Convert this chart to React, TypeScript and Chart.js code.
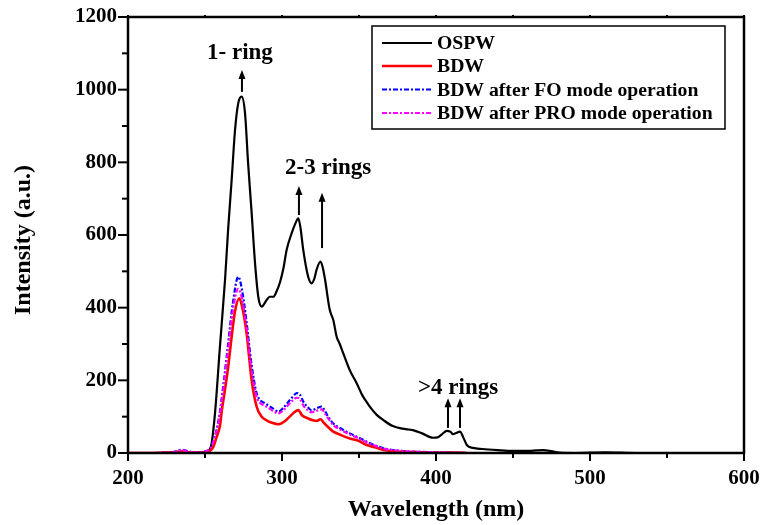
import React, { useEffect, useRef } from "react";
import { Chart, registerables } from "chart.js";

Chart.register(...registerables);

// ---- data ----
const ospwWavelength = [200,210,220,228,232,235,238,242,246,250,252,254,256.5,259.7,263,265,267.3,269.5,271.6,273.8,276,278,280.3,282.5,284.6,286.8,290,292,294.4,296.5,298.7,301,303,306.3,308.5,310.6,312,313.8,317,319.3,321,322.5,325,326.5,328,331,333.3,335.5,337.5,339.8,344,348.5,352,355,358,361.5,366,372,378,385,391,398,401,404,407,409.5,411,413,415.6,417.5,420,424,430,440,450,460,465,469.6,475,480,490,510,530,600];
const ospwIntensity = [0,0,0,1,3,4,3,1,1,3,6,20,110,293,476,614,751,889,963,981,935,797,660,522,430,403,421,430,430,445,470,510,559,605,630,646,620,559,485,467,480,505,527,510,476,394,366,320,300,274,228,192,160,140,122,105,90,74,67,63,54,42,43,52,61,58,52,55,59,45,22,14,11,8,6,6,7,8,5,1,0,2,0,0];

const bdwWavelength = [200,215,225,230,235,240,245,250,253,255.4,257.6,259.7,261,263,265,267.3,269.5,272.3,274.5,277,280.3,283.5,286.8,290,293,298,302,305,308,310.6,313,317,320,322.5,325,327,329,333.3,338,344,350,355,361,366,372,380,390,400,410,420];
const bdwIntensity = [0,0,1,2,4,2,1,2,5,17,45,75,120,175,235,320,390,426,395,330,200,128,100,90,84,79,88,100,112,118,104,95,90,88,93,84,75,59,50,40,33,22,15,8,5,3,2,1,1,0];

const afterWavelength = [200,215,225,230,234.8,238,242,246,250,253,256,259,262,265,268,271.6,274,277,280,283.5,286,289,294,297.6,301,304,307,309.5,311.7,314,317,319,321,323,325.8,328,330,333.3,338,344,350,355,361,366,372,380,390,400,410,420];
const foIntensity = [0,0,1,3,9,6,2,2,5,10,40,95,190,300,410,485,450,360,250,165,145,137,123,114,125,140,155,165,160,140,125,118,120,124,128,115,100,81,68,54,42,31,20,13,8,5,3,2,1,0];
const proIntensity = [0,0,1,3,8,5,2,2,5,10,38,90,180,285,390,452,425,345,235,155,137,130,116,109,118,132,145,152,148,130,117,112,114,117,120,108,95,77,64,51,40,29,19,12,8,5,3,2,1,0];

const seriesLabels = ["OSPW", "BDW", "BDW after FO mode operation", "BDW after PRO mode operation"];
const seriesColors = ["#000000", "#ff0000", "#0000ff", "#ff00ff"];

const xTicks = [200, 300, 400, 500, 600];
const yTicks = [0, 200, 400, 600, 800, 1000, 1200];

// annotations in data units
const annotationTexts = [
  { text: "1- ring", x: 272.7, y: 1101 },
  { text: "2-3 rings", x: 330, y: 784 },
  { text: ">4 rings", x: 414.3, y: 179 },
];
const annotationArrows = [
  { x: 274, from: 994, to: 1054 },
  { x: 311, from: 655, to: 735 },
  { x: 326, from: 564, to: 716 },
  { x: 407.8, from: 69, to: 151 },
  { x: 415.6, from: 69, to: 151 },
];

const FONT = '"Liberation Serif", "Times New Roman", serif';
const DASH_DOT = [5, 2, 2, 2];

function zip(xs: number[], ys: number[]) {
  return xs.map((x, i) => ({ x, y: ys[i] }));
}

const decorPlugin = {
  id: "decor",
  afterDraw(chart: any) {
    const ctx = chart.ctx as CanvasRenderingContext2D;
    const { left, right, top, bottom } = chart.chartArea;
    const xs = chart.scales.x;
    const ys = chart.scales.y;
    ctx.save();
    ctx.strokeStyle = "#000";
    ctx.fillStyle = "#000";
    // frame
    ctx.lineWidth = 2.5;
    ctx.setLineDash([]);
    ctx.strokeRect(left, top, right - left, bottom - top);
    // ticks
    ctx.lineWidth = 2;
    for (let v = 200; v <= 600; v += 50) {
      const px = xs.getPixelForValue(v);
      const len = v % 100 === 0 ? 8 : 5;
      ctx.beginPath();
      ctx.moveTo(px, bottom);
      ctx.lineTo(px, bottom + len);
      ctx.stroke();
      ctx.beginPath();
      ctx.moveTo(px, top);
      ctx.lineTo(px, top - 2);
      ctx.stroke();
    }
    for (let v = 0; v <= 1200; v += 100) {
      const py = ys.getPixelForValue(v);
      const len = v % 200 === 0 ? 10 : 6;
      ctx.beginPath();
      ctx.moveTo(left, py);
      ctx.lineTo(left - len, py);
      ctx.stroke();
    }
    // axis titles
    ctx.font = `bold 24px ${FONT}`;
    ctx.textAlign = "center";
    ctx.textBaseline = "middle";
    ctx.fillText("Wavelength (nm)", (left + right) / 2, 510);
    ctx.save();
    ctx.translate(24, 240);
    ctx.rotate(-Math.PI / 2);
    ctx.fillText("Intensity (a.u.)", 0, 0);
    ctx.restore();
    // annotations
    ctx.font = `bold 23px ${FONT}`;
    annotationTexts.forEach((a) => {
      ctx.fillText(a.text, xs.getPixelForValue(a.x), ys.getPixelForValue(a.y));
    });
    ctx.lineWidth = 2;
    annotationArrows.forEach((a) => {
      const px = xs.getPixelForValue(a.x);
      const y1 = ys.getPixelForValue(a.from);
      const y2 = ys.getPixelForValue(a.to);
      ctx.beginPath();
      ctx.moveTo(px, y1);
      ctx.lineTo(px, y2 + 6);
      ctx.stroke();
      ctx.beginPath();
      ctx.moveTo(px, y2);
      ctx.lineTo(px - 3.5, y2 + 9);
      ctx.lineTo(px + 3.5, y2 + 9);
      ctx.closePath();
      ctx.fill();
    });
    // legend
    ctx.lineWidth = 1.5;
    ctx.strokeRect(372, 26, 353, 103);
    const rows = [43, 66, 89.5, 113];
    ctx.font = `bold 19.7px ${FONT}`;
    ctx.textAlign = "left";
    seriesLabels.forEach((lab, i) => {
      ctx.strokeStyle = seriesColors[i];
      ctx.lineWidth = i === 1 ? 2.5 : 2;
      ctx.setLineDash(i >= 2 ? DASH_DOT : []);
      ctx.beginPath();
      ctx.moveTo(382, rows[i]);
      ctx.lineTo(432, rows[i]);
      ctx.stroke();
      ctx.setLineDash([]);
      ctx.fillStyle = "#000";
      ctx.fillText(lab, 437, rows[i] + 1);
    });
    ctx.restore();
  },
};

export default function App() {
  const ref = useRef<HTMLCanvasElement | null>(null);
  useEffect(() => {
    if (!ref.current) return;
    const mk = (i: number, data: any[], extra: any) => ({
      label: seriesLabels[i],
      data,
      borderColor: seriesColors[i],
      backgroundColor: seriesColors[i],
      pointRadius: 0,
      fill: false,
      cubicInterpolationMode: "monotone",
      ...extra,
    });
    const chart = new Chart(ref.current, {
      type: "line",
      data: {
        datasets: [
          mk(0, zip(ospwWavelength, ospwIntensity), { borderWidth: 2.2, order: 4 }),
          mk(2, zip(afterWavelength, foIntensity), { borderWidth: 2.2, borderDash: DASH_DOT, order: 3 }),
          mk(1, zip(bdwWavelength, bdwIntensity), { borderWidth: 2.6, order: 2 }),
          mk(3, zip(afterWavelength, proIntensity), { borderWidth: 2.2, borderDash: DASH_DOT, order: 1 }),
        ],
      },
      options: {
        animation: false,
        responsive: false,
        devicePixelRatio: 1,
        layout: { autoPadding: false, padding: { left: 0, top: 17, right: 17, bottom: 0 } },
        plugins: { legend: { display: false }, tooltip: { enabled: false } },
        scales: {
          x: {
            type: "linear",
            min: 200,
            max: 600,
            afterBuildTicks: (s: any) => { s.ticks = xTicks.map((v) => ({ value: v })); },
            afterFit: (s: any) => { s.height = 72; s.paddingLeft = 0; s.paddingRight = 0; },
            grid: { display: false, drawTicks: false },
            border: { display: false },
            ticks: { color: "#000", padding: 13, maxRotation: 0, callback: (v: any) => String(v), font: { family: FONT, size: 21, weight: "bold" } },
          },
          y: {
            type: "linear",
            min: 0,
            max: 1200,
            afterBuildTicks: (s: any) => { s.ticks = yTicks.map((v) => ({ value: v })); },
            afterFit: (s: any) => { s.width = 128; s.paddingTop = 0; s.paddingBottom = 0; },
            grid: { display: false, drawTicks: false },
            border: { display: false },
            ticks: { color: "#000", padding: 11, callback: (v: any) => String(v), font: { family: FONT, size: 21, weight: "bold" } },
          },
        },
      },
      plugins: [decorPlugin],
    } as any);
    return () => chart.destroy();
  }, []);
  return (
    <div style={{ position: "absolute", left: 0, top: 0, width: 761, height: 525, background: "#fff" }}>
      <canvas ref={ref} width={761} height={525} />
    </div>
  );
}
